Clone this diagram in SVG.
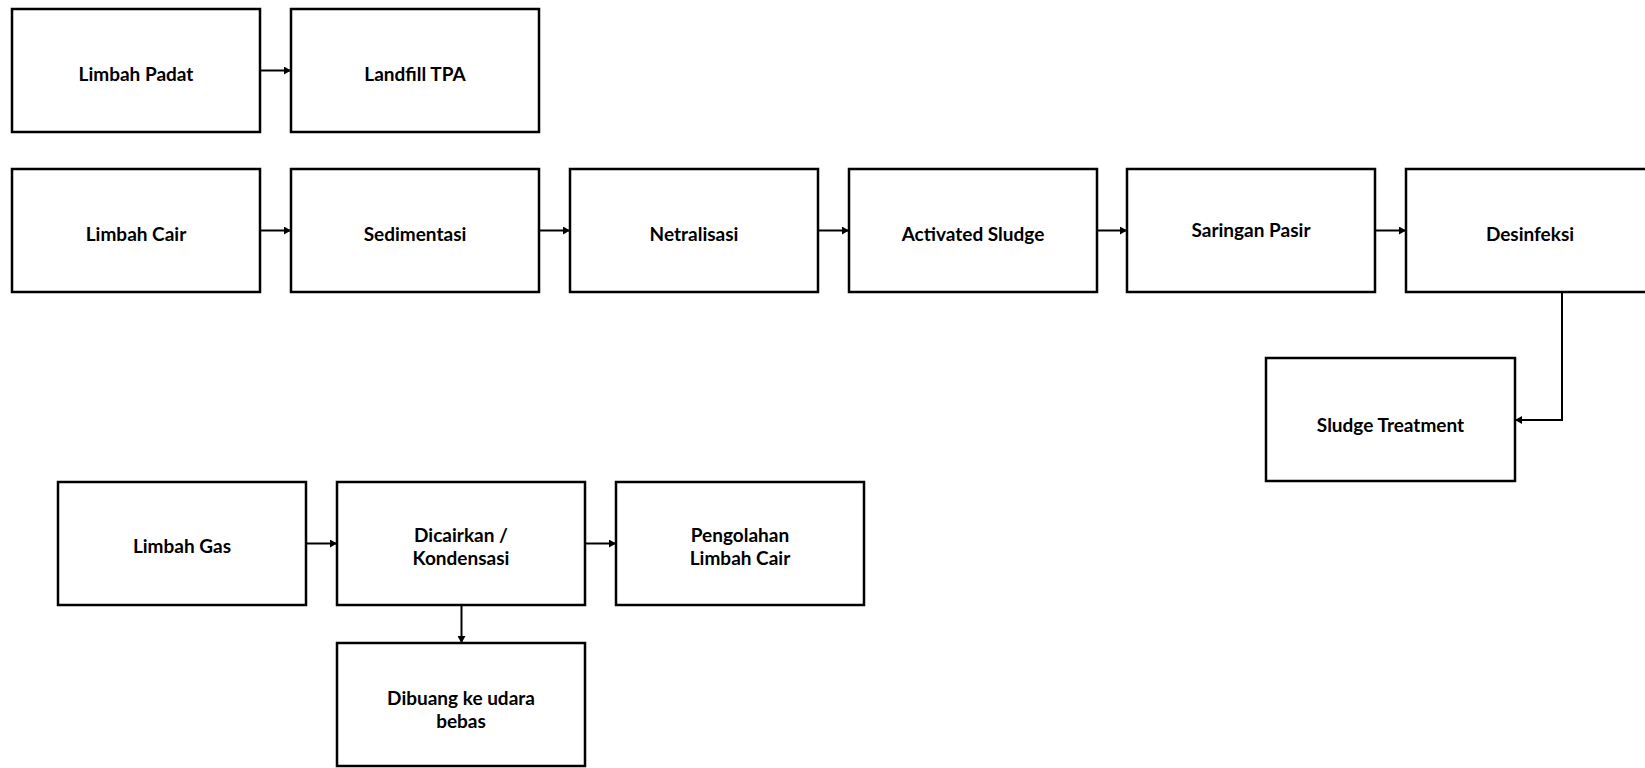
<svg xmlns="http://www.w3.org/2000/svg" width="1645" height="768" viewBox="0 0 1645 768">
<defs>
<style>
.box{fill:#fff;stroke:#000;stroke-width:2.5}
.lbl{font-family:Lato,"Liberation Sans",sans-serif;font-weight:bold;font-size:19px;fill:#000;text-anchor:middle}
.con{fill:none;stroke:#000;stroke-width:2}
</style>
<marker id="arr" markerUnits="userSpaceOnUse" markerWidth="8" markerHeight="8" refX="7" refY="4" orient="auto">
<path d="M0,0 L7,4 L0,8 Z" fill="#000"/>
</marker>
</defs>
<rect width="1645" height="768" fill="#fff"/>
<g id="connectors">
<path class="con" d="M260 70.5 H291" marker-end="url(#arr)"/>
<path class="con" d="M260 230.5 H291" marker-end="url(#arr)"/>
<path class="con" d="M539 230.5 H570" marker-end="url(#arr)"/>
<path class="con" d="M818 230.5 H849" marker-end="url(#arr)"/>
<path class="con" d="M1097 230.5 H1127" marker-end="url(#arr)"/>
<path class="con" d="M1375 230.5 H1406" marker-end="url(#arr)"/>
<path class="con" d="M1562 292 V420 H1515" marker-end="url(#arr)"/>
<path class="con" d="M306 543.5 H337" marker-end="url(#arr)"/>
<path class="con" d="M585 543.5 H616" marker-end="url(#arr)"/>
<path class="con" d="M461.5 605 V643" marker-end="url(#arr)"/>
</g>
<g id="limbah-padat"><rect class="box" x="12" y="9" width="248" height="123"/><text class="lbl" x="136" y="81">Limbah Padat</text></g>
<g id="landfill-tpa"><rect class="box" x="291" y="9" width="248" height="123"/><text class="lbl" x="415" y="81">Landfill TPA</text></g>
<g id="limbah-cair"><rect class="box" x="12" y="169" width="248" height="123"/><text class="lbl" x="136" y="241">Limbah Cair</text></g>
<g id="sedimentasi"><rect class="box" x="291" y="169" width="248" height="123"/><text class="lbl" x="415" y="241">Sedimentasi</text></g>
<g id="netralisasi"><rect class="box" x="570" y="169" width="248" height="123"/><text class="lbl" x="694" y="241">Netralisasi</text></g>
<g id="activated-sludge"><rect class="box" x="849" y="169" width="248" height="123"/><text class="lbl" x="973" y="241">Activated Sludge</text></g>
<g id="saringan-pasir"><rect class="box" x="1127" y="169" width="248" height="123"/><text class="lbl" x="1251" y="237">Saringan Pasir</text></g>
<g id="desinfeksi"><rect class="box" x="1406" y="169" width="248" height="123"/><text class="lbl" x="1530" y="241">Desinfeksi</text></g>
<g id="sludge-treatment"><rect class="box" x="1266" y="358" width="249" height="123"/><text class="lbl" x="1390.5" y="432">Sludge Treatment</text></g>
<g id="limbah-gas"><rect class="box" x="58" y="482" width="248" height="123"/><text class="lbl" x="182" y="553">Limbah Gas</text></g>
<g id="dicairkan"><rect class="box" x="337" y="482" width="248" height="123"/><text class="lbl" x="461" y="542">Dicairkan /</text><text class="lbl" x="461" y="565">Kondensasi</text></g>
<g id="pengolahan"><rect class="box" x="616" y="482" width="248" height="123"/><text class="lbl" x="740" y="542">Pengolahan</text><text class="lbl" x="740" y="565">Limbah Cair</text></g>
<g id="dibuang"><rect class="box" x="337" y="643" width="248" height="123"/><text class="lbl" x="461" y="705">Dibuang ke udara</text><text class="lbl" x="461" y="728">bebas</text></g>
</svg>
